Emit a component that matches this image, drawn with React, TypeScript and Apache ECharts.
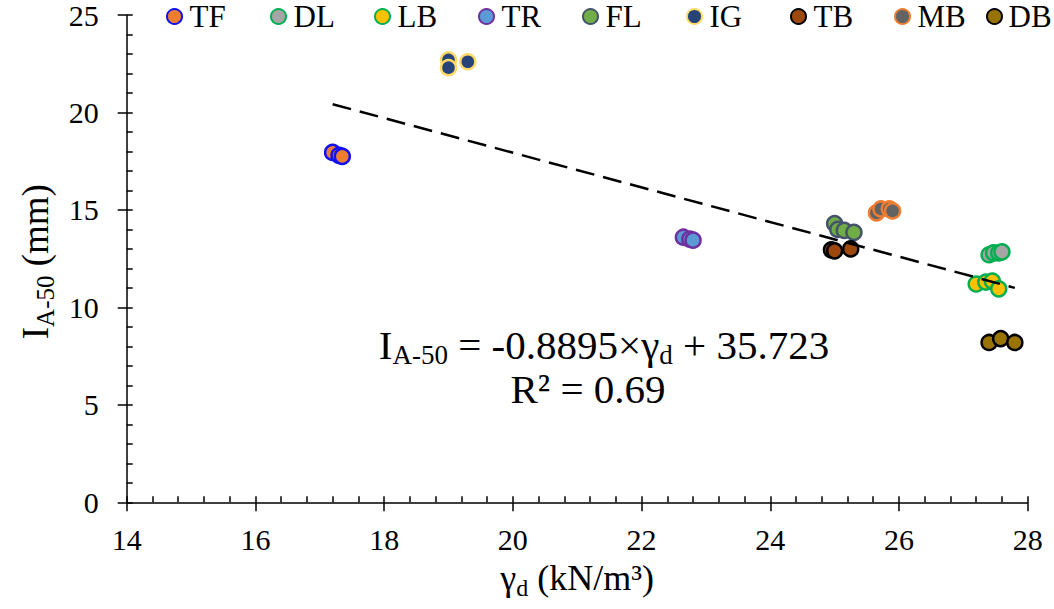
import React, { useEffect, useRef } from "react";
import * as echarts from "echarts";

const FONT = "'Liberation Serif', 'Times New Roman', serif";

const seriesNames = ["TF", "DL", "LB", "TR", "FL", "IG", "TB", "MB", "DB"];
const fillColors = ["#ED7D31", "#A5A5A5", "#FFC000", "#5B9BD5", "#70AD47", "#264478", "#9E480E", "#636363", "#997300"];
const borderColors = ["#1010F0", "#00B050", "#00B050", "#7030A0", "#44546A", "#FFD966", "#000000", "#ED7D31", "#000000"];

const TF = [[17.2, 17.95], [17.3, 17.8], [17.35, 17.75]];
const DL = [[27.4, 12.7], [27.47, 12.8], [27.55, 12.8], [27.6, 12.85]];
const LB = [[27.2, 11.2], [27.35, 11.3], [27.45, 11.35], [27.55, 10.95]];
const TR = [[22.65, 13.6], [22.75, 13.5], [22.8, 13.45]];
const FL = [[25.0, 14.3], [25.05, 14.0], [25.15, 13.95], [25.3, 13.85]];
const IG = [[19.0, 22.7], [19.0, 22.3], [19.3, 22.6]];
const TB = [[24.95, 12.95], [25.0, 12.9], [25.25, 13.0]];
const MB = [[25.65, 14.85], [25.72, 15.05], [25.85, 15.05], [25.9, 14.95]];
const DB = [[27.4, 8.2], [27.58, 8.4], [27.8, 8.2]];
const seriesData = [TF, DL, LB, TR, FL, IG, TB, MB, DB];

const trendLine = [[17.2, 20.424], [27.8, 11.0]];

const xMin = 14, xMax = 28, xStep = 2;
const yMin = 0, yMax = 25, yStep = 5;

const nameRich = (size: number, sub: number) => ({
  n: { fontFamily: FONT, fontSize: size, lineHeight: size, verticalAlign: "top", color: "#000" },
  s: { fontFamily: FONT, fontSize: sub, lineHeight: size + 4, verticalAlign: "bottom", color: "#000" },
});

export default function App() {
  const ref = useRef<HTMLDivElement>(null);
  useEffect(() => {
    if (!ref.current) return;
    const chart = echarts.init(ref.current, undefined, { renderer: "svg" });
    const scatter = seriesNames.map((name, i) => ({
      name,
      type: "scatter",
      data: seriesData[i],
      symbol: "circle",
      symbolSize: 15,
      itemStyle: { color: fillColors[i], borderColor: borderColors[i], borderWidth: 2.5, opacity: 1 },
      z: 2,
    }));
    const eqRich = {
      n: { fontFamily: FONT, fontSize: 41, lineHeight: 41, verticalAlign: "top", fill: "#000" },
      s: { fontFamily: FONT, fontSize: 27, lineHeight: 44, verticalAlign: "bottom", fill: "#000" },
    };
    const option: any = {
      animation: false,
      backgroundColor: "#ffffff",
      textStyle: { fontFamily: FONT },
      grid: { left: 126.7, right: 26.3, top: 14.8, bottom: 106.7, containLabel: false },
      legend: [
        {
          data: seriesNames.slice(0, 8),
          left: 166,
          top: 0,
          padding: 0,
          itemWidth: 20,
          itemHeight: 15,
          itemGap: 30.5,
          icon: "circle",
          textStyle: { fontFamily: FONT, fontSize: 31, color: "#000", lineHeight: 33, width: 50 },
        },
        {
          data: seriesNames.slice(8),
          left: 986,
          top: 0,
          padding: 0,
          itemWidth: 18,
          itemHeight: 15,
          icon: "circle",
          textStyle: { fontFamily: FONT, fontSize: 31, color: "#000", lineHeight: 33 },
        },
      ],
      xAxis: [
        {
          type: "value",
          position: "bottom",
          min: xMin,
          max: xMax,
          interval: xStep,
          axisLine: { show: true, onZero: false, lineStyle: { color: "#000", width: 1.5 } },
          axisTick: { show: true, inside: true, length: 6, lineStyle: { color: "#000", width: 1.5 } },
          minorTick: { show: true, splitNumber: 5, length: 6, lineStyle: { color: "#000", width: 1.5 } },
          splitLine: { show: false },
          axisLabel: { fontFamily: FONT, fontSize: 30, color: "#000", margin: 22 },
          name: "{n|γ}{s|d}{n| (kN/m³)}",
          nameLocation: "middle",
          nameGap: 58,
          nameTextStyle: { color: "#000", rich: nameRich(36, 24) },
        },
        {
          type: "value",
          position: "bottom",
          min: xMin,
          max: xMax,
          interval: xStep,
          axisLine: { show: false, onZero: false },
          axisTick: { show: true, inside: false, length: 9, lineStyle: { color: "#000", width: 1.5 } },
          axisLabel: { show: false },
          splitLine: { show: false },
        },
      ],
      yAxis: [
        {
          type: "value",
          position: "left",
          min: yMin,
          max: yMax,
          interval: yStep,
          axisLine: { show: true, onZero: false, lineStyle: { color: "#000", width: 1.5 } },
          axisTick: { show: true, inside: true, length: 6, lineStyle: { color: "#000", width: 1.5 } },
          minorTick: { show: true, splitNumber: 5, length: 6, lineStyle: { color: "#000", width: 1.5 } },
          splitLine: { show: false },
          axisLabel: { fontFamily: FONT, fontSize: 30, color: "#000", margin: 28 },
          name: "{n|I}{s|A-50}{n| (mm)}",
          nameLocation: "middle",
          nameGap: 58,
          nameRotate: 90,
          nameTextStyle: { color: "#000", rich: nameRich(37, 25), padding: [0, 6, 0, 0] },
        },
        {
          type: "value",
          position: "left",
          min: yMin,
          max: yMax,
          interval: yStep,
          axisLine: { show: false, onZero: false },
          axisTick: { show: true, inside: false, length: 9, lineStyle: { color: "#000", width: 1.5 } },
          axisLabel: { show: false },
          splitLine: { show: false },
        },
      ],
      graphic: [
        {
          type: "text",
          x: 604,
          y: 346,
          z: 10,
          style: {
            text: "{n|I}{s|A-50}{n| = -0.8895×γ}{s|d}{n| + 35.723}",
            align: "center",
            verticalAlign: "middle",
            fill: "#000",
            rich: eqRich,
          },
        },
        {
          type: "text",
          x: 588,
          y: 389,
          z: 10,
          style: {
            text: "R² = 0.69",
            align: "center",
            verticalAlign: "middle",
            fill: "#000",
            fontFamily: FONT,
            fontSize: 41,
            lineHeight: 40,
          },
        },
      ],
      series: [
        ...scatter,
        {
          name: "trend",
          type: "line",
          data: trendLine,
          symbol: "none",
          silent: true,
          z: 5,
          lineStyle: { color: "#000", width: 2.5, type: [19, 9] },
        },
      ],
    };
    chart.setOption(option);
    return () => chart.dispose();
  }, []);
  return (
    <div
      ref={ref}
      style={{ position: "fixed", left: 0, top: 0, width: 1054, height: 609, background: "#fff" }}
    />
  );
}
